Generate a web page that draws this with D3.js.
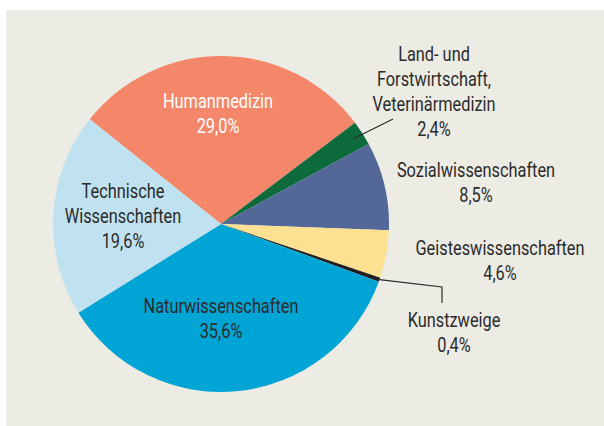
<!DOCTYPE html>
<html>
<head>
<meta charset="utf-8">
<script src="https://cdn.jsdelivr.net/npm/d3@7"></script>
<style>
  body { margin: 0; background: #fff; }
  text { font-family: Roboto, "Liberation Sans", sans-serif; }
</style>
</head>
<body>
<svg id="chart" width="604" height="426"></svg>
<script>
var categories = ["Humanmedizin", "Land- und Forstwirtschaft, Veterinärmedizin", "Sozialwissenschaften",
  "Geisteswissenschaften", "Kunstzweige", "Naturwissenschaften", "Technische Wissenschaften"];
var values = [29.0, 2.4, 8.5, 4.6, 0.4, 35.6, 19.6];
var valueLabels = ["29,0%", "2,4%", "8,5%", "4,6%", "0,4%", "35,6%", "19,6%"];
var labelLines = [["Humanmedizin"], ["Land- und", "Forstwirtschaft,", "Veterinärmedizin"], ["Sozialwissenschaften"],
  ["Geisteswissenschaften"], ["Kunstzweige"], ["Naturwissenschaften"], ["Technische", "Wissenschaften"]];
var colors = ["#f4876a", "#0d6a3b", "#536899", "#fde193", "#231f20", "#00a4d5", "#c0e1ef"];

var svg = d3.select("#chart");
var cx = 221, cy = 224, r = 168;

svg.append("rect")
  .attr("x", 6).attr("y", 10)
  .attr("width", 598).attr("height", 416)
  .attr("fill", "#ecebe4");

var startA = -51.4 * Math.PI / 180;
var pie = d3.pie().sort(null).value(function(d) { return d; })
  .startAngle(startA).endAngle(startA + 2 * Math.PI);
var arcs = pie(values);
var arc = d3.arc().innerRadius(0).outerRadius(r);

var g = svg.append("g").attr("transform", "translate(" + cx + "," + cy + ")");
g.selectAll("path")
  .data(arcs)
  .enter().append("path")
  .attr("d", arc)
  .attr("fill", function(d, i) { return colors[i]; });

// condensed look: squeeze the font so "Naturwissenschaften" is ~155px wide
var fs = 19.5;
var probe = svg.append("text").attr("font-size", fs).text("Naturwissenschaften");
var sx = 155 / probe.node().getComputedTextLength();
probe.remove();

// label anchors (centre x, first baseline), line gap 25
var labelPos = [[218, 108], [434, 61], [476, 177], [500, 255], [454, 327], [221, 313], [123, 198]];
var textColor = ["#ffffff", "#2b2b2b", "#2b2b2b", "#2b2b2b", "#2b2b2b", "#2b2b2b", "#2b2b2b"];

labelLines.forEach(function(lines, i) {
  var t = svg.append("g")
    .attr("transform", "translate(" + labelPos[i][0] + "," + labelPos[i][1] + ") scale(" + sx + ",1)")
    .append("text")
    .attr("text-anchor", "middle")
    .attr("font-size", fs)
    .attr("fill", textColor[i]);
  lines.concat([valueLabels[i]]).forEach(function(s, k) {
    t.append("tspan")
      .attr("x", 0)
      .attr("y", k * 25)
      .text(s);
  });
});

// leader lines
function edge(i, f) {
  var a = arcs[i].startAngle + (arcs[i].endAngle - arcs[i].startAngle) * f;
  return [cx + (r - 10) * Math.sin(a), cy - (r - 10) * Math.cos(a)];
}
var p1 = edge(1, 0.5);
svg.append("polyline")
  .attr("points", [p1, [393, 119]].join(" "))
  .attr("fill", "none").attr("stroke", "#2b2b2b").attr("stroke-width", 1.2);
var p4 = [cx + r * Math.sin((arcs[4].startAngle + arcs[4].endAngle) / 2),
          cy - r * Math.cos((arcs[4].startAngle + arcs[4].endAngle) / 2)];
svg.append("polyline")
  .attr("points", [p4, [442, 287], [442, 303]].join(" "))
  .attr("fill", "none").attr("stroke", "#2b2b2b").attr("stroke-width", 1.2);
</script>
</body>
</html>
